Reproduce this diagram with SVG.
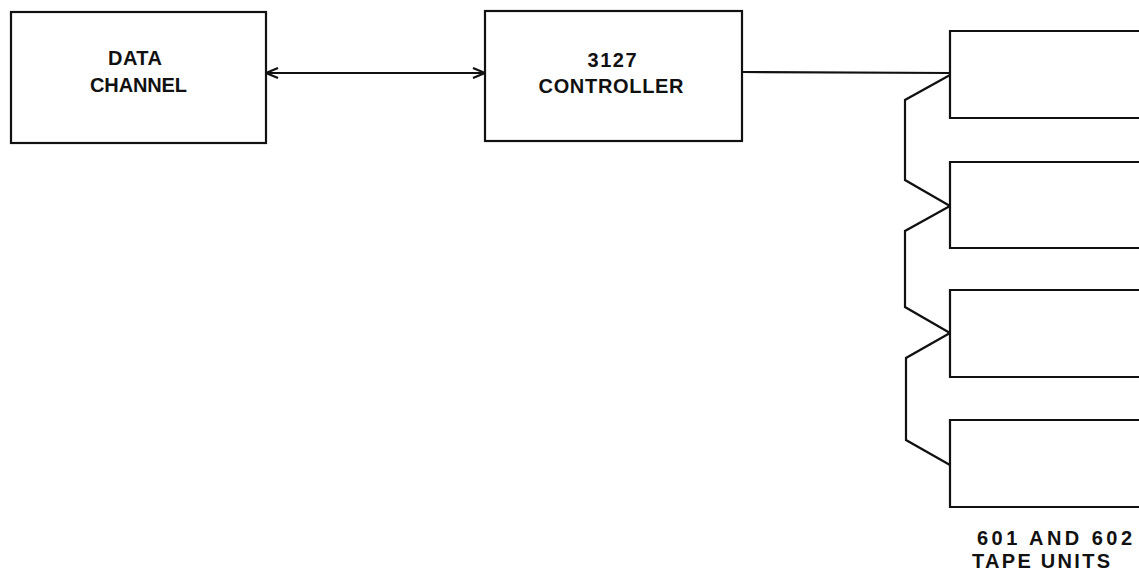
<svg xmlns="http://www.w3.org/2000/svg" width="1139" height="571" viewBox="0 0 1139 571">
<style>
.box{fill:none;stroke:#111;stroke-width:2.2}
.wire{fill:none;stroke:#111;stroke-width:2.2;stroke-linejoin:miter}
.lbl{font-family:"Liberation Sans",Arial,sans-serif;font-size:20px;font-weight:bold;fill:#111}
</style>
<defs>
<marker id="ah" viewBox="0 0 14 12" refX="13" refY="6" markerWidth="14" markerHeight="12" markerUnits="userSpaceOnUse" orient="auto-start-reverse">
<path d="M1,1 L13,6 L1,11" fill="none" stroke="#111" stroke-width="2.2"/>
</marker>
</defs>
<rect width="1139" height="571" fill="#fff"/>
<g id="data-channel">
<rect class="box" x="11" y="12" width="255" height="131"/>
<text class="lbl" x="135" y="65" text-anchor="middle" textLength="54" lengthAdjust="spacing">DATA</text>
<text class="lbl" x="138.5" y="92" text-anchor="middle" textLength="97" lengthAdjust="spacing">CHANNEL</text>
</g>
<g id="controller">
<rect class="box" x="485" y="11" width="257" height="130"/>
<text class="lbl" x="612" y="67" text-anchor="middle" textLength="49" lengthAdjust="spacing">3127</text>
<text class="lbl" x="611" y="93" text-anchor="middle" textLength="145" lengthAdjust="spacing">CONTROLLER</text>
</g>
<g id="tape-unit-1"><path class="box" d="M1140,31 H950 V118 H1140"/></g>
<g id="tape-unit-2"><path class="box" d="M1140,162 H950 V248 H1140"/></g>
<g id="tape-unit-3"><path class="box" d="M1140,290 H950 V377 H1140"/></g>
<g id="tape-unit-4"><path class="box" d="M1140,420 H950 V507 H1140"/></g>
<g id="tape-label">
<text class="lbl" x="977" y="545" textLength="155" lengthAdjust="spacing">601  AND  602</text>
<text class="lbl" x="972" y="568" textLength="138" lengthAdjust="spacing">TAPE UNITS</text>
</g>
<g id="connectors">
<line class="wire" x1="266" y1="73" x2="485" y2="73" marker-start="url(#ah)" marker-end="url(#ah)"/>
<line class="wire" x1="742" y1="72" x2="950" y2="73"/>
<path class="wire" d="M950,75 L905,100 V180 L950,206"/>
<path class="wire" d="M950,206 L905,231 V307 L950,333"/>
<path class="wire" d="M950,333 L906,358 V440 L950,465"/>
</g>
</svg>
